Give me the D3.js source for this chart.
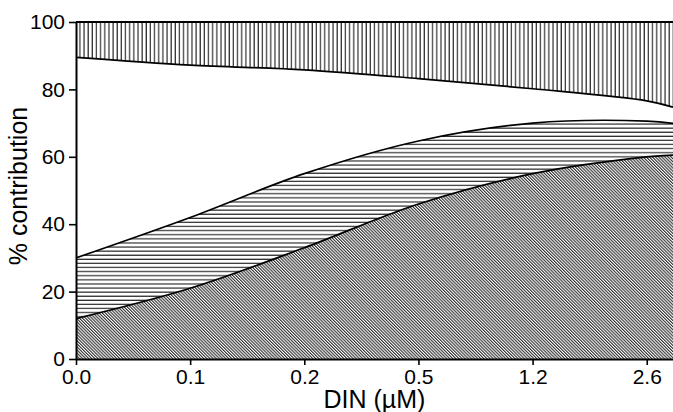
<!DOCTYPE html>
<html>
<head>
<meta charset="utf-8">
<script src="https://cdn.jsdelivr.net/npm/d3@7"></script>
<style>
  html, body { margin: 0; padding: 0; background: #fff; }
  svg { display: block; }
  text { font-family: "Liberation Sans", Arial, Helvetica, sans-serif; fill: #000; }
</style>
</head>
<body>
<svg id="chart" width="673" height="412"></svg>
<script>
// ---- data ----
const categories = ["0.0", "0.1", "0.2", "0.5", "1.2", "2.6"];
// % contribution of each component; the last value of each series is at the right end of the axis
const seriesA = [12, 21, 33, 46, 55, 60, 60.5];          // bottom, diagonal hatch
const seriesB = [18, 21, 22, 18.7, 15, 10.6, 9.4];       // horizontal lines
const seriesC = [59.5, 45.2, 30.8, 18.5, 10.2, 6.0, 4.8];// white
const seriesD = [10.5, 12.8, 14.2, 16.8, 19.8, 23.4, 25.3]; // top, vertical lines
const yTicks = [0, 20, 40, 60, 80, 100];

// ---- layout ----
const W = 673, H = 412;
const m = { left: 76, right: 0, top: 22, bottom: 53 };
const xMax = 5.23;

const svg = d3.select("#chart");
const x = d3.scaleLinear().domain([0, xMax]).range([m.left, W - m.right]);
const y = d3.scaleLinear().domain([0, 100]).range([H - m.bottom, m.top]);

const rows = seriesA.map((a, i) => ({
  xi: i < categories.length ? i : xMax,
  A: a, B: seriesB[i], C: seriesC[i], D: seriesD[i]
}));
const keys = ["A", "B", "C", "D"];
const stack = d3.stack().keys(keys)(rows);

// ---- patterns ----
const defs = svg.append("defs");
const pv = defs.append("pattern").attr("id", "pv").attr("patternUnits", "userSpaceOnUse")
  .attr("width", 4.15).attr("height", 10);
pv.append("rect").attr("width", 4.15).attr("height", 10).attr("fill", "#fff");
pv.append("line").attr("x1", 1).attr("x2", 1).attr("y1", 0).attr("y2", 10)
  .attr("stroke", "#000").attr("stroke-width", 1);

const ph = defs.append("pattern").attr("id", "ph").attr("patternUnits", "userSpaceOnUse")
  .attr("width", 10).attr("height", 4.1);
ph.append("rect").attr("width", 10).attr("height", 4.1).attr("fill", "#fff");
ph.append("line").attr("x1", 0).attr("x2", 10).attr("y1", 1).attr("y2", 1)
  .attr("stroke", "#000").attr("stroke-width", 1);

const pd = defs.append("pattern").attr("id", "pd").attr("patternUnits", "userSpaceOnUse")
  .attr("width", 2.2).attr("height", 10).attr("patternTransform", "rotate(-45)");
pd.append("rect").attr("width", 2.2).attr("height", 10).attr("fill", "#fff");
pd.append("line").attr("x1", 0.6).attr("x2", 0.6).attr("y1", 0).attr("y2", 10)
  .attr("stroke", "#000").attr("stroke-width", 0.9);

const fills = { A: "url(#pd)", B: "url(#ph)", C: "#fff", D: "url(#pv)" };

defs.append("clipPath").attr("id", "clip").append("rect")
  .attr("x", m.left).attr("y", m.top)
  .attr("width", W - m.right - m.left).attr("height", H - m.bottom - m.top);

const curve = d3.curveCatmullRom.alpha(0.5);
const area = d3.area()
  .x(d => x(d.data.xi))
  .y0(d => y(d[0]))
  .y1(d => y(d[1]))
  .curve(curve);

const g = svg.append("g").attr("clip-path", "url(#clip)");
g.selectAll("path.area").data(stack).join("path")
  .attr("class", "area")
  .attr("d", area)
  .attr("fill", d => fills[d.key]);

// boundary lines
const line = d3.line().x(d => x(d.data.xi)).y(d => y(d[1])).curve(curve);
g.selectAll("path.bound").data(stack.slice(0, 3)).join("path")
  .attr("class", "bound")
  .attr("d", line)
  .attr("fill", "none").attr("stroke", "#000").attr("stroke-width", 1.7);

// top frame line
svg.append("line").attr("x1", m.left).attr("x2", W - m.right)
  .attr("y1", y(100)).attr("y2", y(100))
  .attr("stroke", "#000").attr("stroke-width", 1.8);

// ---- axes ----
const yAxis = d3.axisLeft(y).tickValues(yTicks).tickSize(7).tickPadding(4).tickSizeOuter(0);
const ya = svg.append("g").attr("transform", `translate(${m.left},0)`).call(yAxis);
ya.select(".domain").attr("stroke-width", 2);
ya.selectAll(".tick line").attr("stroke-width", 1.6);
ya.selectAll(".tick text").attr("font-size", 21)
  .attr("font-family", "'Liberation Sans', Arial, sans-serif").attr("fill", "#000");

const xAxis = d3.axisBottom(x).tickValues(d3.range(categories.length))
  .tickFormat(i => categories[i]).tickSize(6).tickPadding(4).tickSizeOuter(0);
const xa = svg.append("g").attr("transform", `translate(0,${H - m.bottom})`).call(xAxis);
xa.select(".domain").attr("stroke-width", 2);
xa.selectAll(".tick line").attr("stroke-width", 1.6);
xa.selectAll(".tick text").attr("font-size", 21)
  .attr("font-family", "'Liberation Sans', Arial, sans-serif").attr("fill", "#000");

// titles
svg.append("text").attr("x", (m.left + W - m.right) / 2).attr("y", 408)
  .attr("text-anchor", "middle").attr("font-size", 25).text("DIN (µM)");
svg.append("text").attr("transform", `translate(27,186) rotate(-90)`)
  .attr("text-anchor", "middle").attr("font-size", 25).text("% contribution");
</script>
</body>
</html>
